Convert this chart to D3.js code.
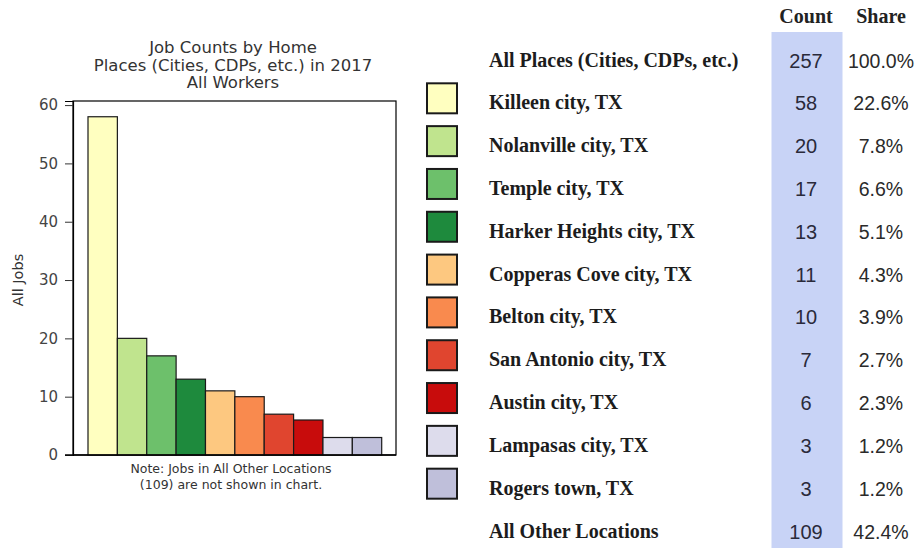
<!DOCTYPE html>
<html>
<head>
<meta charset="utf-8">
<script src="https://cdn.jsdelivr.net/npm/d3@7"></script>
<style>
  html, body { margin: 0; padding: 0; background: #fff; }
  svg { display: block; }
</style>
</head>
<body>
<svg id="chart" width="918" height="548"></svg>
<script>
// ---- Data ----
const places = ["Killeen city, TX", "Nolanville city, TX", "Temple city, TX", "Harker Heights city, TX",
  "Copperas Cove city, TX", "Belton city, TX", "San Antonio city, TX", "Austin city, TX",
  "Lampasas city, TX", "Rogers town, TX"];
const counts = [58, 20, 17, 13, 11, 10, 7, 6, 3, 3];
const shares = ["22.6%", "7.8%", "6.6%", "5.1%", "4.3%", "3.9%", "2.7%", "2.3%", "1.2%", "1.2%"];
const colors = ["#ffffc0", "#c0e48e", "#6dc06b", "#1e8a3d", "#fdc880", "#f98a4e", "#e0452f", "#c80c0c", "#dddcec", "#bfbfda"];
const totalLabel = "All Places (Cities, CDPs, etc.)";
const totalCount = 257;
const totalShare = "100.0%";
const otherLabel = "All Other Locations";
const otherCount = 109;
const otherShare = "42.4%";
const yTicks = [0, 10, 20, 30, 40, 50, 60];
const titleLines = ["Job Counts by Home", "Places (Cities, CDPs, etc.) in 2017", "All Workers"];
const noteLines = ["Note: Jobs in All Other Locations", "(109) are not shown in chart."];

const svg = d3.select("#chart");

// ---- Bar chart ----
const plot = { left: 73, right: 396, top: 101, bottom: 455 };
const y = d3.scaleLinear().domain([0, 60.7]).range([plot.bottom, plot.top]);
const x = d3.scaleBand().domain(places).range([88, 381.7]).padding(0);

const g = svg.append("g");

// frame
g.append("rect")
  .attr("x", plot.left).attr("y", plot.top)
  .attr("width", plot.right - plot.left).attr("height", plot.bottom - plot.top)
  .attr("fill", "none").attr("stroke", "#000").attr("stroke-width", 1.2);

// bars
g.selectAll("rect.bar").data(places).enter().append("rect")
  .attr("class", "bar")
  .attr("x", d => x(d))
  .attr("y", (d, i) => y(counts[i]))
  .attr("width", x.bandwidth())
  .attr("height", (d, i) => y(0) - y(counts[i]))
  .attr("fill", (d, i) => colors[i])
  .attr("stroke", "#1a1a1a").attr("stroke-width", 1.2);

// y axis
const yAxis = d3.axisLeft(y).tickValues(yTicks).tickSize(8).tickPadding(7);
const ya = g.append("g").attr("transform", `translate(${plot.left},0)`).call(yAxis);
ya.select(".domain").attr("stroke", "#000").attr("stroke-width", 1.2);
ya.selectAll(".tick line").attr("stroke", "#333");
ya.selectAll(".tick text").attr("fill", "#444").style("font-family", "DejaVu Sans").style("font-size", "15px");

// bottom line
g.append("line").attr("x1", plot.left - 8).attr("x2", plot.right)
  .attr("y1", plot.bottom).attr("y2", plot.bottom).attr("stroke", "#000").attr("stroke-width", 1.4);

// y label
g.append("text")
  .attr("transform", `translate(23,280) rotate(-90)`)
  .attr("text-anchor", "middle")
  .style("font-family", "DejaVu Sans").style("font-size", "14.5px").attr("fill", "#333")
  .text("All Jobs");

// title
g.selectAll("text.title").data(titleLines).enter().append("text")
  .attr("class", "title")
  .attr("x", 233).attr("y", (d, i) => 53 + i * 17.6)
  .attr("text-anchor", "middle")
  .style("font-family", "DejaVu Sans").style("font-size", "16.5px").attr("fill", "#333")
  .text(d => d);

// note
g.selectAll("text.note").data(noteLines).enter().append("text")
  .attr("class", "note")
  .attr("x", 231).attr("y", (d, i) => 473 + i * 16)
  .attr("text-anchor", "middle")
  .style("font-family", "DejaVu Sans").style("font-size", "12.5px").attr("fill", "#333")
  .text(d => d);

// ---- Legend table ----
const rowLabels = [totalLabel, ...places, otherLabel];
const rowCounts = [totalCount, ...counts, otherCount];
const rowShares = [totalShare, ...shares, otherShare];
const rowY = d3.scalePoint().domain(d3.range(rowLabels.length)).range([60, 531]);

const t = svg.append("g");

// count column band
t.append("rect").attr("x", 771.5).attr("y", 32).attr("width", 71).attr("height", 548 - 32)
  .attr("fill", "#c8d3f6");

// headers
t.append("text").attr("x", 806).attr("y", 22.5).attr("text-anchor", "middle")
  .style("font-family", "Liberation Serif").style("font-weight", "bold").style("font-size", "20px")
  .attr("fill", "#222").text("Count");
t.append("text").attr("x", 881).attr("y", 22.5).attr("text-anchor", "middle")
  .style("font-family", "Liberation Serif").style("font-weight", "bold").style("font-size", "20px")
  .attr("fill", "#222").text("Share");

// swatches
t.selectAll("rect.sw").data(places).enter().append("rect")
  .attr("class", "sw")
  .attr("x", 427).attr("y", (d, i) => rowY(i + 1) - 19.5)
  .attr("width", 30).attr("height", 30)
  .attr("fill", (d, i) => colors[i])
  .attr("stroke", "#1a1a1a").attr("stroke-width", 2);

// labels
t.selectAll("text.lbl").data(rowLabels).enter().append("text")
  .attr("class", "lbl")
  .attr("x", 489).attr("y", (d, i) => rowY(i) + 6.5)
  .style("font-family", "Liberation Serif").style("font-weight", "bold").style("font-size", "20px")
  .attr("fill", "#1c1c1c").text(d => d);

// counts
t.selectAll("text.cnt").data(rowCounts).enter().append("text")
  .attr("class", "cnt")
  .attr("x", 806).attr("y", (d, i) => rowY(i) + 7.5)
  .attr("text-anchor", "middle")
  .style("font-family", "Liberation Sans").style("font-size", "20px")
  .attr("fill", "#2a2a3a").text(d => d);

// shares
t.selectAll("text.shr").data(rowShares).enter().append("text")
  .attr("class", "shr")
  .attr("x", 881).attr("y", (d, i) => rowY(i) + 7.5)
  .attr("text-anchor", "middle")
  .style("font-family", "Liberation Sans").style("font-size", "19.5px")
  .attr("fill", "#2a2a2a").text(d => d);
</script>
</body>
</html>
